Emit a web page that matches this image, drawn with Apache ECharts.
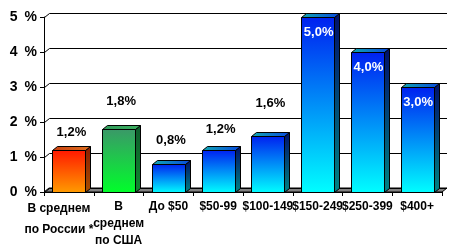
<!DOCTYPE html>
<html><head><meta charset="utf-8">
<script src="https://cdn.jsdelivr.net/npm/echarts@6/dist/echarts.min.js"></script>
<style>html,body{margin:0;padding:0;background:#fff}#c{width:460px;height:251px}</style>
</head><body><div id="c"></div>
<script>
// ---- data ----
const categories = ['В среднем\nпо России *', 'В\nсреднем\nпо США', 'До $50', '$50-99', '$100-149', '$150-249', '$250-399', '$400+'];
const values = [1.2, 1.8, 0.8, 1.2, 1.6, 5.0, 4.0, 3.0];
const yTicks = [0, 1, 2, 3, 4, 5];

// ---- styles ----
const FONT = '"Liberation Sans", Arial, sans-serif';
const DX = 5, DY = -4;
const barKind = [0, 1, 2, 2, 2, 2, 2, 2];
const labelInside = [false, false, false, false, false, true, true, true];
const labelLift = [18, 28, 24, 21, 33, 0, 0, 0];
const G = echarts.graphic;
const palettes = [
  { front: ['#ff1800', '#ff9c00'], top: ['#c84010', '#e07020'], side: ['#8c1c00', '#a85000'] },
  { front: ['#3a9868', '#00ff2a'], top: ['#2f9a5a', '#3cb060'], side: ['#0d5a2c', '#0f8a2e'] },
  { front: ['#0020f0', '#00ffff'], top: ['#10a8b0', '#0848e0'], side: ['#00106a', '#008484'] }
];

function vgrad(c) { return new G.LinearGradient(0, 0, 0, 1, [{ offset: 0, color: c[0] }, { offset: 1, color: c[1] }]); }
function hgrad(c) { return new G.LinearGradient(0, 0, 1, 0, [{ offset: 0, color: c[0] }, { offset: 1, color: c[1] }]); }

function renderWall(params, api) {
  const cs = params.coordSys;
  const x0 = cs.x, x1 = cs.x + cs.width;
  const children = [];
  const b = api.coord([0, 0])[1];
  children.push({ type: 'polygon', shape: { points: [[x0, b], [x1, b], [x1 + DX, b + DY], [x0 + DX, b + DY]] },
    style: { fill: '#808080', stroke: '#000', lineWidth: 1 } });
  yTicks.forEach(t => {
    const y = Math.round(api.coord([0, t])[1]) + 0.5;
    children.push({ type: 'polyline', shape: { points: [[x0 + 0.5, y], [x0 + DX + 0.5, y + DY], [x1 + DX, y + DY]] },
      style: { stroke: '#000', lineWidth: 1, fill: null } });
  });
  return { type: 'group', children };
}

function renderBar(params, api) {
  const i = api.value(0), v = api.value(1);
  const base = api.coord([i, 0]), top = api.coord([i, v]);
  const w = api.size([1, 0])[0] * 0.66;
  const xl = Math.round(base[0] - w / 2) + 0.5, xr = Math.round(base[0] + w / 2) + 0.5;
  const yb = Math.round(base[1]) + 0.5, yt = Math.round(top[1]) + 0.5;
  const p = palettes[barKind[i]];
  const st = { stroke: '#000', lineWidth: 1 };
  const children = [
    { type: 'polygon', shape: { points: [[xr, yb], [xr + DX, yb + DY], [xr + DX, yt + DY], [xr, yt]] }, style: Object.assign({ fill: vgrad(p.side) }, st) },
    { type: 'polygon', shape: { points: [[xl, yt], [xr, yt], [xr + DX, yt + DY], [xl + DX, yt + DY]] }, style: Object.assign({ fill: hgrad(p.top) }, st) },
    { type: 'rect', shape: { x: xl, y: yt, width: xr - xl, height: yb - yt }, style: Object.assign({ fill: vgrad(p.front) }, st) }
  ];
  const txt = v.toFixed(1).replace('.', ',') + '%';
  if (labelInside[i]) {
    children.push({ type: 'text', style: { text: txt, x: base[0] + 1, y: top[1] + 15.5, fill: '#fff', font: 'bold 13px ' + FONT, align: 'center', verticalAlign: 'middle' } });
  } else {
    children.push({ type: 'text', style: { text: txt, x: base[0] + DX / 2, y: top[1] - labelLift[i], fill: '#000', font: 'bold 13px ' + FONT, align: 'center', verticalAlign: 'middle' } });
  }
  return { type: 'group', children };
}

const chart = echarts.init(document.getElementById('c'), null, { renderer: 'canvas' });
chart.setOption({
  animation: false,
  backgroundColor: '#fff',
  grid: { left: 44, right: 18, top: 17, bottom: 59 },
  xAxis: {
    type: 'category', data: categories, boundaryGap: true,
    axisLine: { lineStyle: { color: '#000', width: 1 } },
    axisTick: { show: true, length: 4, lineStyle: { color: '#000' }, alignWithLabel: false },
    axisLabel: {
      interval: 0, hideOverlap: false, margin: 6, color: '#000', fontSize: 12, fontWeight: 'bold', fontFamily: FONT, lineHeight: 17,
      formatter: (val, idx) => idx === 0 ? val.split('\n').map(s => '{a|' + s + '}').join('\n') : val,
      rich: { a: { fontSize: 12, fontWeight: 'bold', fontFamily: FONT, color: '#000', lineHeight: 21, padding: [0, 20, 0, 0] } }
    },
    z: 5
  },
  yAxis: {
    type: 'value', min: 0, max: 5, interval: 1,
    splitLine: { show: false },
    axisLine: { show: true, lineStyle: { color: '#000', width: 1 } },
    axisTick: { show: true, length: 4, lineStyle: { color: '#000' } },
    axisLabel: { margin: 7, color: '#000', fontSize: 14, fontWeight: 'bold', fontFamily: FONT, formatter: v => v + '\u2002%' },
    z: 5
  },
  series: [
    { type: 'custom', renderItem: renderWall, data: [[0, 0]], z: 1, silent: true },
    { type: 'custom', renderItem: renderBar, data: values.map((v, i) => [i, v]), z: 3, silent: true }
  ]
});
</script></body></html>
